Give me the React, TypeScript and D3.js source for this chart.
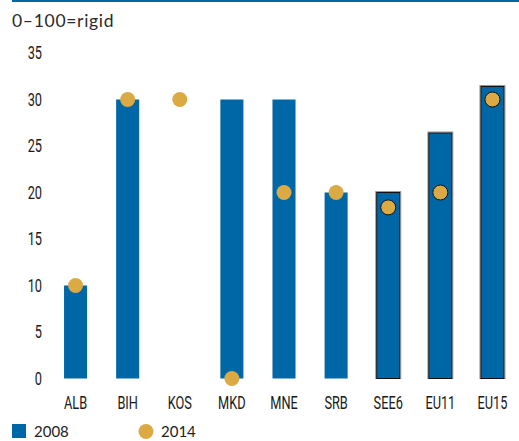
import React from "react";
import * as d3 from "d3";

const categories = ["ALB", "BIH", "KOS", "MKD", "MNE", "SRB", "SEE6", "EU11", "EU15"];
const values2008: (number | null)[] = [10, 30, null, 30, 30, 20, 20, 26.4, 31.4];
const values2014: (number | null)[] = [10, 30, 30, 0, 20, 20, 18.4, 20, 30];
const aggregates = ["SEE6", "EU11", "EU15"];
const yTicks = [0, 5, 10, 15, 20, 25, 30, 35];
const seriesLabels = ["2008", "2014"];
const subtitle = "0\u2013100=rigid";

const BLUE = "#0067a6";
const GOLD = "#dcaa45";
const COND = "Roboto, sans-serif";
const REG = "Lato, 'Open Sans', sans-serif";

function CondText(props: {
  x: number;
  y: number;
  anchor?: "start" | "middle" | "end";
  dy?: string;
  children: React.ReactNode;
}) {
  return (
    <text
      transform={`translate(${props.x},${props.y}) scale(0.73,1)`}
      textAnchor={props.anchor || "start"}
      dy={props.dy}
      fontFamily={COND}
      fontSize={17.5}
      fill="#1a1a1a"
    >
      {props.children}
    </text>
  );
}

export default function App() {
  const W = 519;
  const H = 441;
  const y = d3.scaleLinear().domain([0, 35]).range([378.5, 53]);
  const x = d3
    .scaleBand<string>()
    .domain(categories)
    .range([49.5, 518.5])
    .paddingInner(29 / 52)
    .paddingOuter(29 / 104);

  return (
    <svg
      width={W}
      height={H}
      style={{ position: "absolute", left: 0, top: 0, background: "#fff" }}
    >
      <line x1={12} x2={519} y1={1} y2={1} stroke={BLUE} strokeWidth={2} />
      <text x={12} y={26.5} fontFamily={REG} fontSize={17.5} fill="#2a2a2a" letterSpacing={0.7}>
        {subtitle}
      </text>
      {yTicks.map((t) => (
        <CondText key={t} x={42} y={y(t)} dy="0.36em" anchor="end">
          {t}
        </CondText>
      ))}
      {categories.map((c, i) => {
        const v = values2008[i];
        if (v == null) return null;
        const agg = aggregates.includes(c);
        const x0 = x(c)!;
        return (
          <g key={"b" + c}>
            {agg && (
              <rect
                x={x0 - 1}
                y={y(v) - 1}
                width={x.bandwidth() + 2}
                height={y(0) - y(v) + 1}
                fill="none"
                stroke="#999"
                strokeWidth={1}
              />
            )}
            <rect
              x={x0}
              y={y(v)}
              width={x.bandwidth()}
              height={y(0) - y(v)}
              fill={BLUE}
              stroke={agg ? "#111" : "none"}
              strokeWidth={agg ? 1 : 0}
            />
          </g>
        );
      })}
      {categories.map((c, i) => {
        const v = values2014[i];
        if (v == null) return null;
        const agg = aggregates.includes(c);
        return (
          <circle
            key={"d" + c}
            cx={x(c)! + x.bandwidth() / 2}
            cy={y(v)}
            r={7.5}
            fill={GOLD}
            stroke={agg ? "#111" : "none"}
            strokeWidth={agg ? 1 : 0}
          />
        );
      })}
      {categories.map((c) => (
        <CondText key={"l" + c} x={x(c)! + x.bandwidth() / 2} y={408.5} anchor="middle">
          {c}
        </CondText>
      ))}
      <rect x={12} y={424} width={14} height={14} fill={BLUE} />
      <text x={34} y={437} fontFamily={REG} fontSize={15} fill="#222">
        {seriesLabels[0]}
      </text>
      <circle cx={146} cy={431.5} r={7.5} fill={GOLD} />
      <text x={161} y={437} fontFamily={REG} fontSize={15} fill="#222">
        {seriesLabels[1]}
      </text>
    </svg>
  );
}
